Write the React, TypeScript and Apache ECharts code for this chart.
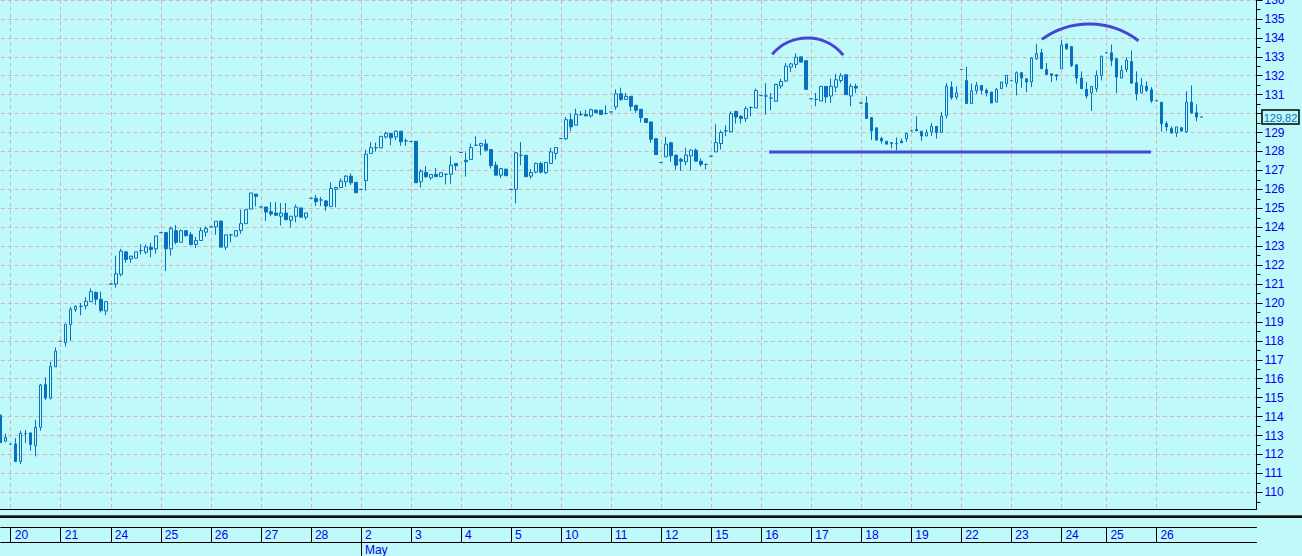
import React, { useEffect, useRef } from 'react';
import * as echarts from 'echarts';

// ---- Data ----
const opens = [
  114.07, 112.7, 112.55, 112.56, 111.63, 113.1, 113.14, 112.47, 113.44, 115.7,
  114.98, 116.63, 117.98, 117.9, 118.86, 119.65, 119.82, 119.85, 120.07, 120.56,
  120.2, 119.58, 121.0, 121.0, 121.51, 122.7, 122.33, 122.37, 122.77, 122.68,
  122.95, 122.86, 123.72, 123.72, 122.86, 123.82, 123.21, 123.82, 123.61, 123.09,
  123.3, 123.74, 124.02, 124.02, 124.32, 122.95, 123.6, 123.53, 123.82, 124.19,
  124.96, 125.75, 125.07, 125.07, 124.82, 124.75, 124.58, 124.75, 124.37, 124.58,
  125.02, 124.53, 125.53, 125.53, 125.44, 125.39, 125.09, 126.0, 126.1, 126.4,
  126.7, 126.37, 126.0, 126.46, 127.9, 128.2, 128.19, 128.77, 128.96, 128.77,
  129.07, 128.56, 128.53, 128.54, 126.4, 126.9, 126.61, 126.79, 126.67, 126.8,
  126.8, 127.37, 127.95, 127.54, 127.58, 128.33, 128.3, 128.4, 128.1, 127.28,
  126.75, 127.07, 126.0, 126.0, 127.8, 127.8, 126.7, 126.91, 127.37, 126.89,
  127.37, 127.9, 128.68, 128.67, 129.68, 129.39, 129.96, 129.96, 129.88, 130.18,
  130.18, 130.0, 130.09, 130.35, 131.05, 130.75, 130.91, 130.44, 130.23, 129.74,
  129.56, 128.68, 127.42, 127.72, 128.46, 127.81, 127.58, 127.46, 127.77, 128.07,
  127.49, 127.32, 127.75, 127.98, 128.42, 129.09, 129.04, 130.12, 129.86, 129.74,
  130.32, 130.3, 130.95, 130.93, 130.82, 130.65, 131.46, 131.72, 132.46, 132.6,
  133.0, 132.8, 130.79, 130.75, 130.67, 131.44, 130.93, 131.4, 131.75, 132.05,
  130.93, 131.44, 130.56, 130.56, 129.79, 129.25, 128.68, 128.54, 128.47, 128.42,
  128.54, 128.68, 129.09, 129.16, 129.07, 128.82, 129.04, 129.33, 129.0, 129.91,
  131.4, 130.88, 132.33, 131.75, 130.53, 131.21, 131.49, 131.23, 131.14, 130.61,
  131.32, 131.58, 131.74, 131.63, 132.16, 131.84, 131.67, 132.9, 133.21, 132.33,
  132.1, 132.05, 132.37, 133.68, 133.54, 132.58, 131.88, 131.28, 131.09, 131.32,
  132.02, 133.21, 133.21, 132.9, 131.88, 132.33, 132.75, 131.63, 131.09, 131.44,
  131.26, 130.68, 130.6, 129.47, 129.21, 128.98, 129.25, 129.04, 130.6, 130.05,
  129.82,
];

const closes = [
  112.63, 112.9, 112.55, 111.63, 113.12, 113.1, 112.53, 113.44, 115.67, 114.98,
  116.65, 117.46, 117.98, 118.88, 119.67, 119.82, 119.82, 120.09, 120.6, 120.2,
  119.6, 120.07, 121.0, 121.54, 122.74, 122.3, 122.47, 122.7, 122.77, 122.96,
  122.82, 123.54, 123.72, 122.86, 123.93, 123.21, 123.82, 123.56, 123.09, 123.3,
  123.82, 123.93, 124.02, 124.32, 122.95, 123.6, 123.6, 123.82, 124.19, 124.93,
  125.81, 125.63, 125.07, 124.8, 124.7, 124.63, 124.75, 124.4, 124.58, 125.07,
  124.53, 124.75, 125.53, 125.35, 125.44, 125.12, 126.05, 126.1, 126.44, 126.7,
  126.35, 125.82, 126.0, 127.86, 128.2, 128.2, 128.8, 128.95, 128.72, 129.07,
  128.51, 128.56, 128.53, 126.35, 126.96, 126.67, 126.79, 126.67, 126.88, 126.8,
  127.28, 127.25, 127.95, 127.46, 128.21, 128.33, 128.42, 128.07, 127.25, 126.75,
  127.1, 126.72, 126.0, 127.93, 127.8, 126.67, 126.89, 127.37, 126.91, 127.42,
  127.98, 128.21, 128.68, 129.68, 129.3, 129.96, 129.96, 129.88, 130.21, 130.04,
  129.95, 130.0, 130.09, 131.05, 130.75, 130.91, 130.39, 130.18, 129.79, 129.53,
  128.65, 127.84, 127.42, 128.39, 127.77, 127.28, 127.49, 127.81, 128.07, 127.49,
  127.32, 127.32, 127.75, 128.47, 129.0, 129.09, 130.0, 129.82, 129.74, 130.26,
  130.32, 131.23, 130.95, 130.93, 130.82, 131.54, 131.7, 132.51, 132.63, 132.98,
  132.72, 131.28, 130.79, 130.75, 131.44, 130.88, 131.44, 131.79, 132.0, 131.0,
  131.44, 131.35, 130.56, 129.74, 129.09, 128.6, 128.56, 128.39, 128.42, 128.42,
  128.46, 128.95, 129.09, 129.09, 128.82, 129.0, 129.33, 129.0, 129.86, 131.44,
  130.84, 131.1, 132.33, 130.53, 131.21, 131.49, 131.23, 131.09, 130.56, 131.28,
  131.67, 132.02, 131.74, 132.16, 131.88, 131.67, 132.93, 133.16, 132.37, 132.07,
  132.02, 131.98, 133.63, 133.42, 132.54, 131.88, 131.32, 130.93, 131.44, 132.02,
  133.02, 133.21, 132.81, 131.93, 132.28, 132.81, 131.61, 131.05, 131.49, 131.23,
  130.67, 130.68, 129.47, 129.3, 128.98, 129.3, 129.09, 130.6, 130.04, 129.82,
  129.82,
];

const lows = [
  112.6, 112.65, 112.55, 111.6, 111.49, 112.6, 112.2, 111.9, 113.26, 114.88,
  114.9, 116.63, 117.98, 117.7, 118.0, 119.53, 119.35, 119.67, 120.07, 119.9,
  119.5, 119.35, 121.0, 120.8, 121.4, 122.12, 122.12, 122.37, 122.56, 122.58,
  122.42, 122.6, 123.72, 121.68, 122.5, 123.1, 123.21, 123.5, 123.04, 122.9,
  123.3, 123.5, 124.02, 123.6, 122.95, 122.8, 123.2, 123.53, 123.65, 124.19,
  124.96, 125.1, 125.07, 124.33, 124.58, 124.63, 124.09, 124.37, 124.0, 124.26,
  124.53, 124.4, 125.53, 125.12, 125.12, 124.86, 125.09, 125.05, 126.1, 126.14,
  126.23, 125.82, 126.0, 125.93, 127.9, 128.0, 128.19, 128.68, 128.33, 128.6,
  128.3, 128.3, 128.53, 126.35, 126.09, 126.61, 126.5, 126.67, 126.67, 126.26,
  126.3, 127.0, 127.95, 126.67, 127.58, 128.33, 127.8, 128.07, 127.1, 126.75,
  126.6, 126.72, 126.0, 125.26, 127.28, 126.67, 126.56, 126.84, 126.84, 126.8,
  127.37, 127.58, 128.68, 128.6, 129.07, 129.39, 129.87, 129.88, 129.79, 130.04,
  129.95, 130.0, 130.09, 130.2, 130.67, 130.75, 130.14, 130.04, 129.53, 129.53,
  128.46, 127.84, 127.42, 127.72, 127.46, 127.05, 126.98, 127.28, 127.0, 127.49,
  127.2, 127.05, 127.75, 127.98, 128.1, 128.81, 129.04, 129.47, 129.47, 129.56,
  129.86, 130.3, 130.95, 129.95, 130.18, 130.65, 131.32, 131.67, 132.19, 132.4,
  132.72, 131.28, 130.79, 130.39, 130.67, 130.56, 130.56, 131.14, 131.63, 131.0,
  130.39, 131.09, 130.56, 129.74, 128.6, 128.6, 128.42, 128.39, 128.16, 128.07,
  128.46, 128.51, 129.09, 129.09, 128.56, 128.82, 128.82, 128.68, 129.0, 129.74,
  130.74, 130.74, 132.33, 130.53, 130.53, 131.05, 131.02, 130.91, 130.56, 130.61,
  131.32, 131.4, 131.74, 130.96, 131.35, 131.14, 131.4, 132.84, 132.37, 132.07,
  131.67, 131.75, 132.37, 133.37, 132.46, 131.58, 131.32, 130.79, 130.14, 131.14,
  131.75, 133.21, 132.51, 131.09, 131.88, 132.19, 131.58, 130.7, 131.09, 131.14,
  130.56, 130.68, 129.04, 129.07, 128.95, 128.77, 129.04, 128.98, 130.0, 129.6,
  129.82,
];

const highs = [
  114.1, 113.1, 112.55, 112.86, 113.25, 113.3, 113.14, 113.82, 115.72, 116.07,
  116.9, 117.65, 117.98, 118.88, 119.8, 119.88, 120.0, 120.3, 120.77, 120.6,
  120.6, 120.07, 121.0, 122.5, 122.86, 122.7, 122.5, 122.7, 123.1, 123.09,
  123.18, 123.54, 123.72, 123.72, 124.05, 124.12, 123.88, 123.82, 123.75, 123.49,
  124.0, 124.05, 124.02, 124.32, 124.37, 123.6, 123.6, 123.82, 124.93, 124.95,
  125.81, 125.75, 125.07, 125.07, 125.33, 125.33, 125.28, 125.28, 124.58, 125.2,
  125.02, 124.75, 125.53, 125.7, 125.6, 125.44, 126.37, 126.14, 126.58, 126.75,
  126.84, 126.37, 126.0, 128.1, 128.5, 128.47, 128.8, 129.04, 128.96, 129.12,
  129.07, 128.68, 128.53, 128.54, 127.07, 127.23, 126.79, 127.14, 126.88, 126.8,
  127.75, 127.37, 127.95, 127.95, 128.42, 128.8, 128.46, 128.65, 128.1, 127.46,
  127.1, 127.07, 126.0, 127.98, 128.5, 127.8, 127.07, 127.42, 127.46, 127.42,
  128.2, 128.21, 128.68, 129.82, 130.0, 130.26, 130.14, 130.2, 130.26, 130.23,
  130.18, 130.44, 130.09, 131.28, 131.37, 131.09, 130.91, 130.44, 130.23, 129.74,
  129.56, 128.68, 127.42, 128.77, 128.51, 127.81, 127.67, 128.19, 128.1, 128.16,
  127.63, 127.32, 127.75, 129.44, 129.12, 129.39, 130.12, 130.12, 129.91, 130.39,
  130.39, 131.32, 130.95, 131.61, 131.09, 131.58, 131.84, 132.68, 132.68, 133.19,
  133.0, 132.8, 130.79, 131.09, 131.44, 131.44, 131.84, 132.1, 132.14, 132.05,
  131.58, 131.58, 130.56, 130.91, 129.79, 129.25, 128.77, 128.54, 128.47, 128.74,
  128.68, 129.0, 129.09, 129.86, 129.07, 129.16, 129.51, 129.33, 130.09, 131.61,
  131.7, 131.44, 132.33, 132.46, 131.58, 131.67, 131.49, 131.32, 131.14, 131.35,
  131.67, 132.02, 131.74, 132.23, 132.19, 131.84, 132.98, 133.68, 133.42, 132.67,
  132.1, 132.05, 133.9, 133.68, 133.54, 132.58, 132.23, 131.67, 131.44, 132.28,
  133.07, 133.21, 133.65, 132.9, 132.54, 132.98, 133.33, 132.23, 131.88, 131.7,
  131.4, 130.68, 130.6, 129.6, 129.33, 129.3, 129.3, 131.18, 131.49, 130.49,
  129.82,
];

// Session (day) labels and the candle index where each one starts
const dayLabels = ['20', '21', '24', '25', '26', '27', '28', '2', '3', '4', '5', '10', '11', '12', '15', '16', '17', '18', '19', '22', '23', '24', '25', '26'];
const dayStarts = [2, 12, 22, 32, 42, 52, 62, 72, 82, 92, 102, 112, 122, 132, 142, 152, 162, 172, 182, 192, 202, 212, 221, 231];
const monthLabels = ['May'];
const monthStarts = [72];

// Number of candle slots on the time axis (data + empty space on the right)
const SLOT_COUNT = 252;
const Y_MIN = 109;
const Y_MAX = 136;

// Hand-drawn annotations, in (candle index, price)
const arcLeft = [[154.2, 133.13], [161.8, 133.99], [168.4, 133.09]];
const arcRight = [[208.1, 133.92], [217.1, 134.73], [227.4, 133.85]];
const supportLine = [[153.6, 127.97], [229.9, 127.97]];

// ---- Styles ----
const BG = '#bff9f9';
const CANDLE = '#0870c0';
const GRID = '#d6b4b4';
const LABEL = '#0000ee';
const ANNOT = '#4646d0';
const FONT = '"Liberation Sans", Arial, sans-serif';

function circleThrough(p1: number[], p2: number[], p3: number[]) {
  const [x1, y1] = p1, [x2, y2] = p2, [x3, y3] = p3;
  const d = 2 * (x1 * (y2 - y3) + x2 * (y3 - y1) + x3 * (y1 - y2));
  const s1 = x1 * x1 + y1 * y1, s2 = x2 * x2 + y2 * y2, s3 = x3 * x3 + y3 * y3;
  const cx = (s1 * (y2 - y3) + s2 * (y3 - y1) + s3 * (y1 - y2)) / d;
  const cy = (s1 * (x3 - x2) + s2 * (x1 - x3) + s3 * (x2 - x1)) / d;
  const r = Math.hypot(x1 - cx, y1 - cy);
  return {
    cx, cy, r,
    startAngle: Math.atan2(y1 - cy, x1 - cx),
    endAngle: Math.atan2(y3 - cy, x3 - cx),
  };
}

export default function App() {
  const ref = useRef<HTMLDivElement>(null);

  useEffect(() => {
    document.body.style.margin = '0';
    const chart = echarts.init(ref.current!, null, { renderer: 'svg' });

    const cats = Array.from({ length: SLOT_COUNT }, (_, i) => String(i));
    const candleData = opens.map((o, i) => [o, closes[i], lows[i], highs[i]]);
    const dayStartSet = new Set(dayStarts);
    const dayLabelAt = new Map(dayStarts.map((s, i) => [s, dayLabels[i]]));
    const monthStartSet = new Set(monthStarts);
    const monthLabelAt = new Map(monthStarts.map((s, i) => [s, monthLabels[i]]));
    const last = closes[closes.length - 1];

    const option: any = {
      animation: false,
      backgroundColor: BG,
      grid: { left: 0.7, right: 45.5, top: 0, bottom: 44.7, containLabel: false, outerBoundsMode: 'none' },
      xAxis: [
        {
          type: 'category', data: cats, boundaryGap: false, position: 'bottom',
          axisLine: { show: false }, axisTick: { show: false }, axisLabel: { show: false },
          splitLine: {
            show: true,
            interval: (i: number) => dayStartSet.has(i),
            lineStyle: { color: GRID, width: 1, type: [4, 3] },
          },
        },
        {
          type: 'category', data: cats, boundaryGap: false, position: 'bottom', offset: 15.7,
          axisLine: { show: true, lineStyle: { color: '#000', width: 1 } },
          axisTick: {
            show: true, length: 15.3,
            interval: (i: number) => dayStartSet.has(i),
            lineStyle: { color: '#000', width: 1 },
          },
          axisLabel: {
            show: true,
            interval: (i: number) => dayStartSet.has(i),
            formatter: (_v: string, i: number) => dayLabelAt.get(i) ?? '',
            align: 'left', padding: [0, 0, 0, 4], margin: 2,
            color: LABEL, fontSize: 12, fontFamily: FONT,
          },
          splitLine: { show: false },
        },
        {
          type: 'category', data: cats, boundaryGap: false, position: 'bottom', offset: 31,
          axisLine: { show: true, lineStyle: { color: '#000', width: 1 } },
          axisTick: {
            show: true, length: 14,
            interval: (i: number) => monthStartSet.has(i),
            lineStyle: { color: '#000', width: 1 },
          },
          axisLabel: {
            show: true,
            interval: (i: number) => monthStartSet.has(i),
            formatter: (_v: string, i: number) => monthLabelAt.get(i) ?? '',
            align: 'left', padding: [0, 0, 0, 4], margin: 2,
            color: LABEL, fontSize: 12, fontFamily: FONT,
          },
          splitLine: { show: false },
        },
      ],
      yAxis: {
        type: 'value', position: 'right', min: Y_MIN, max: Y_MAX, interval: 1,
        axisLine: { show: true, lineStyle: { color: '#000', width: 1 } },
        axisTick: { show: true, length: 6, lineStyle: { color: '#000' } },
        minorTick: { show: true, splitNumber: 2, length: 4, lineStyle: { color: '#000' } },
        axisLabel: {
          color: LABEL, fontSize: 12, fontFamily: FONT, margin: 8,
          // the last-price box hides the tick label it sits on
          formatter: (v: number) => (v <= Y_MIN || Math.abs(v - last) < 0.5 ? '' : String(v)),
        },
        splitLine: { show: true, lineStyle: { color: GRID, width: 1, type: [4, 3] } },
      },
      series: [
        {
          type: 'candlestick',
          data: candleData,
          barWidth: 3,
          itemStyle: {
            color: BG, color0: CANDLE,
            borderColor: CANDLE, borderColor0: CANDLE, borderWidth: 1,
          },
        },
      ],
    };
    chart.setOption(option);

    const xA = chart.convertToPixel({ xAxisIndex: 0 }, 0) as number;
    const xB = chart.convertToPixel({ xAxisIndex: 0 }, SLOT_COUNT - 1) as number;
    const px = (n: number) => xA + ((xB - xA) * n) / (SLOT_COUNT - 1);
    const py = (v: number) => chart.convertToPixel({ yAxisIndex: 0 }, v) as number;
    const toPx = (p: number[]) => [px(p[0]), py(p[1])];

    const arcEl = (pts: number[][]) => {
      const c = circleThrough(toPx(pts[0]), toPx(pts[1]), toPx(pts[2]));
      return {
        type: 'arc', z: 60, silent: true,
        shape: { cx: c.cx, cy: c.cy, r: c.r, startAngle: c.startAngle, endAngle: c.endAngle, clockwise: true },
        style: { stroke: ANNOT, lineWidth: 3, fill: null },
      };
    };

    const plotRight = xB;
    const bottomY = Math.round(py(110) + 17) + 0.5; // plot bottom edge
    const yLast = py(last);

    chart.setOption({
      graphic: [
        // panel between the plot area and the date rows
        { type: 'rect', z: 50, silent: true, shape: { x: 0, y: bottomY + 0.5, width: 1302, height: 16.5 }, style: { fill: BG } },
        { type: 'line', z: 51, silent: true, shape: { x1: 0, y1: bottomY, x2: plotRight + 0.5, y2: bottomY }, style: { stroke: '#000', lineWidth: 1 } },
        { type: 'rect', z: 51, silent: true, shape: { x: 0, y: bottomY + 5.5, width: 1302, height: 1 }, style: { fill: '#505858' } },
        { type: 'rect', z: 51, silent: true, shape: { x: 0, y: bottomY + 6.5, width: 1302, height: 2 }, style: { fill: '#101010' } },
        // annotations
        arcEl(arcLeft),
        arcEl(arcRight),
        {
          type: 'line', z: 60, silent: true,
          shape: { x1: px(supportLine[0][0]), y1: py(supportLine[0][1]), x2: px(supportLine[1][0]), y2: py(supportLine[1][1]) },
          style: { stroke: ANNOT, lineWidth: 3 },
        },
        // last price box
        {
          type: 'group', z: 60, x: plotRight + 5.5, y: Math.round(yLast) - 7,
          children: [
            { type: 'rect', z: 60, shape: { x: 0, y: 0, width: 37, height: 14 }, style: { fill: BG, stroke: '#000', lineWidth: 1.5 } },
            {
              type: 'text', z: 61, x: 18.5, y: 7.5,
              style: {
                text: last.toFixed(2).replace('.', ','),
                fill: CANDLE, font: `11px ${FONT}`,
                align: 'center', verticalAlign: 'middle',
                textAlign: 'center', textVerticalAlign: 'middle',
              },
            },
          ],
        },
      ],
    });

    return () => chart.dispose();
  }, []);

  return <div ref={ref} style={{ position: 'fixed', left: 0, top: 0, width: 1302, height: 556 }} />;
}
